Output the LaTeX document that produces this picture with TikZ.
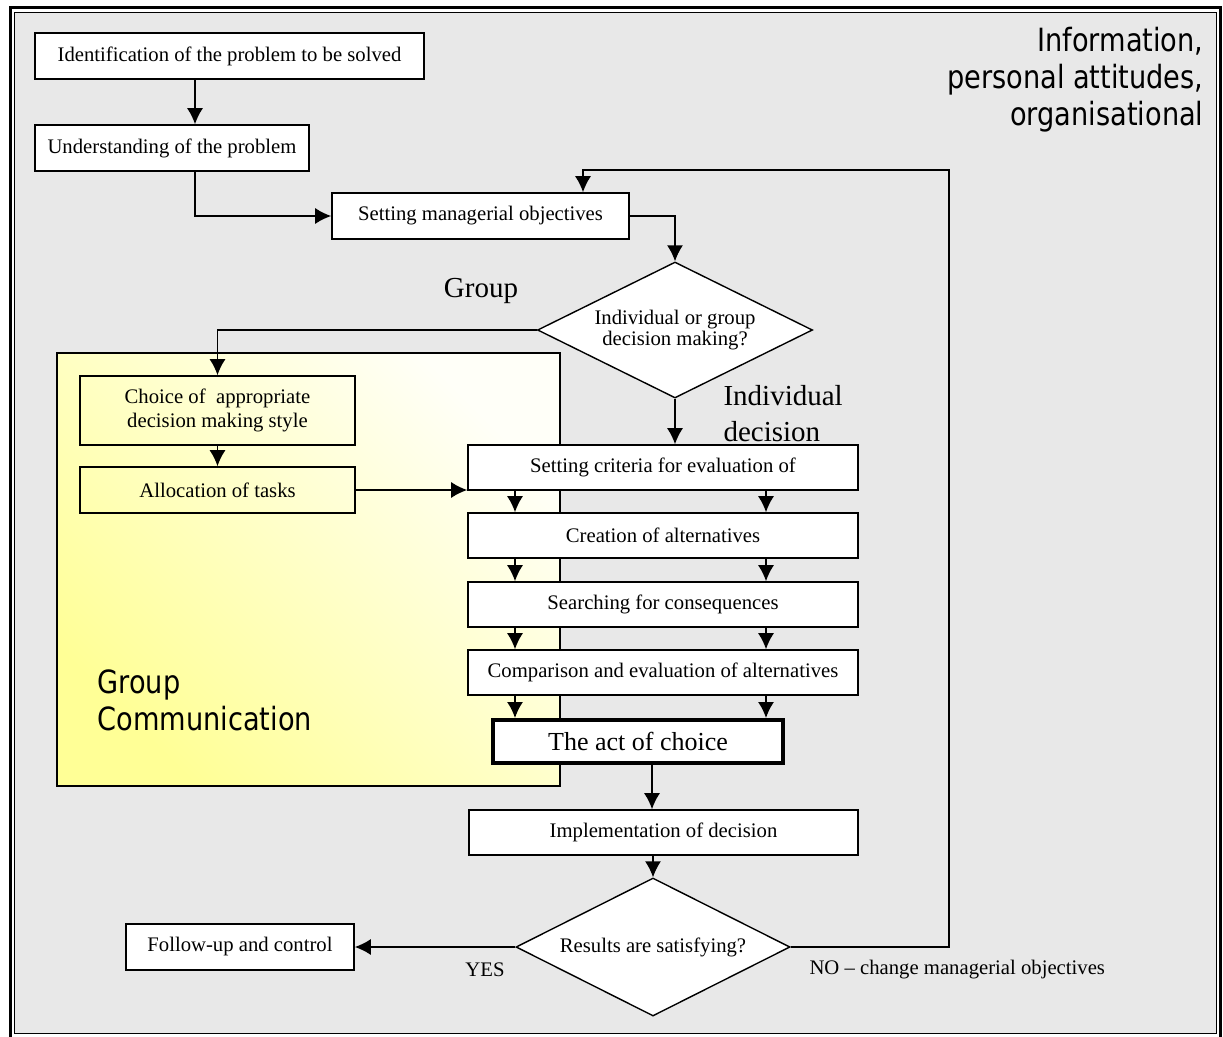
\documentclass[tikz,border=0pt]{standalone}
\usepackage{fontspec}
\setmainfont{Liberation Serif}
\newfontfamily\tahoma[FakeStretch=0.85]{DejaVu Sans}
\usepackage{tikz}
\usetikzlibrary{shapes.geometric}
\usetikzlibrary{arrows.meta}
\definecolor{fond}{RGB}{232,232,232}
\definecolor{jaune}{RGB}{255,255,150}
\definecolor{creme}{RGB}{255,255,248}

\begin{document}
\begin{tikzpicture}[x=1pt,y=-1pt,
  box/.style={draw,fill=white,line width=1.6pt,minimum height=46pt,inner sep=2pt,font=\fontsize{20.7}{23.5}\selectfont},
  gbox/.style={box,fill=none},
  losange/.style={draw,fill=white,diamond,aspect=2,line width=1.4pt,inner sep=1pt,align=center,font=\fontsize{20.7}{21}\selectfont},
  fleche/.style={line width=1.5pt,-{Latex[length=16pt,width=16pt]}},
  big/.style={font=\fontsize{29}{36}\selectfont},
  sans/.style={font=\tahoma\fontsize{32}{37}\selectfont}]
\useasboundingbox (0,0) rectangle (1223,1036);
\clip (0,0) rectangle (1223,1036);
% frame
\draw [line width=3pt] (10,7) rectangle (1220,1045);
\draw [fill=fond,line width=1pt] (14,12) rectangle (1216.5,1033);
\draw [line width=1.6pt,top color=creme,bottom color=jaune,shading angle=-45] (57,353) rectangle (560,786);
% boxes
\node[box,minimum width=389pt] (ident) at (229.5,56) {Identification of the problem to be solved};
\node[box,minimum width=274pt] (under) at (172,148) {Understanding of the problem};
\node[box,minimum width=297pt] (setobj) at (480.5,216) {Setting managerial objectives};
\node[losange,minimum width=275pt,minimum height=136pt] (decide) at (675,330) {Individual or group\\decision making?};
\node[gbox,minimum width=275pt,minimum height=69pt,align=center] (choice) at (217.5,410.5) {Choice of~ appropriate\\decision making style};
\node[gbox,minimum width=275pt] (alloc) at (217.5,490) {Allocation of tasks};
\node[box,minimum width=390pt,minimum height=45pt] (crit) at (663,467.5) {Setting criteria for evaluation of};
\node[box,minimum width=390pt,minimum height=45pt] (create) at (663,535.5) {Creation of alternatives};
\node[box,minimum width=390pt,minimum height=45pt] (search) at (663,604.5) {Searching for consequences};
\node[box,minimum width=390pt,minimum height=45pt] (compare) at (663,672.5) {Comparison and evaluation of alternatives};
\node[box,minimum width=290pt,minimum height=43pt,line width=4pt,font=\fontsize{26}{30}\selectfont] (act) at (638,741.5) {The act of choice};
\node[box,minimum width=389pt,minimum height=45pt] (impl) at (663.5,832.5) {Implementation of decision};
\node[losange,minimum width=274pt,minimum height=138pt] (result) at (653,947) {Results are satisfying?};
\node[box,minimum width=228pt] (follow) at (240,947) {Follow-up and control};
% labels
\node[big] (grp) at (481,291) {Group};
\node[big,anchor=west,align=left] (indiv) at (720,414) {Individual\\decision};
\node[font=\fontsize{20.7}{24}\selectfont] (yes) at (485,970) {YES};
\node[font=\fontsize{20.7}{24}\selectfont,anchor=west] (no) at (806,970) {NO – change managerial objectives};
\node[sans,anchor=west,align=left] (comm) at (94,700) {Group\\Communication};
\node[sans,anchor=east,align=right] (info) at (1207,80) {Information,\\personal attitudes,\\organisational};
% arrows
\coordinate (retour) at (949,170);
\draw [fleche] ([xshift=-34.5pt]ident.south) -- ([xshift=23pt]under.north);
\draw [fleche] ([xshift=23pt]under.south) |- (setobj.west);
\draw [fleche] (setobj.east) -| (decide.north);
\draw [fleche] (decide.west) -| (choice.north);
\draw [fleche] (choice.south) -- (alloc.north);
\draw [fleche] (alloc.east) -- (alloc.east -| crit.south west);
\draw [fleche] (decide.south) -- (decide.south |- crit.north);
\foreach \a/\b in {crit/create,create/search,search/compare,compare/act}
  \foreach \dx in {-148,103}
    \draw [fleche] ([xshift=\dx pt]\a.south) -- ([xshift=\dx pt]\a.south |- \b.north);
\draw [fleche] ([xshift=14pt]act.south) -- ([xshift=14pt]act.south |- impl.north);
\draw [fleche] (impl.south -| result.north) -- (result.north);
\draw [fleche] (result.west) -- (follow.east);
\draw [fleche] (result.east) -| (retour) -| ([xshift=102.5pt]setobj.north);
\end{tikzpicture}
\end{document}
